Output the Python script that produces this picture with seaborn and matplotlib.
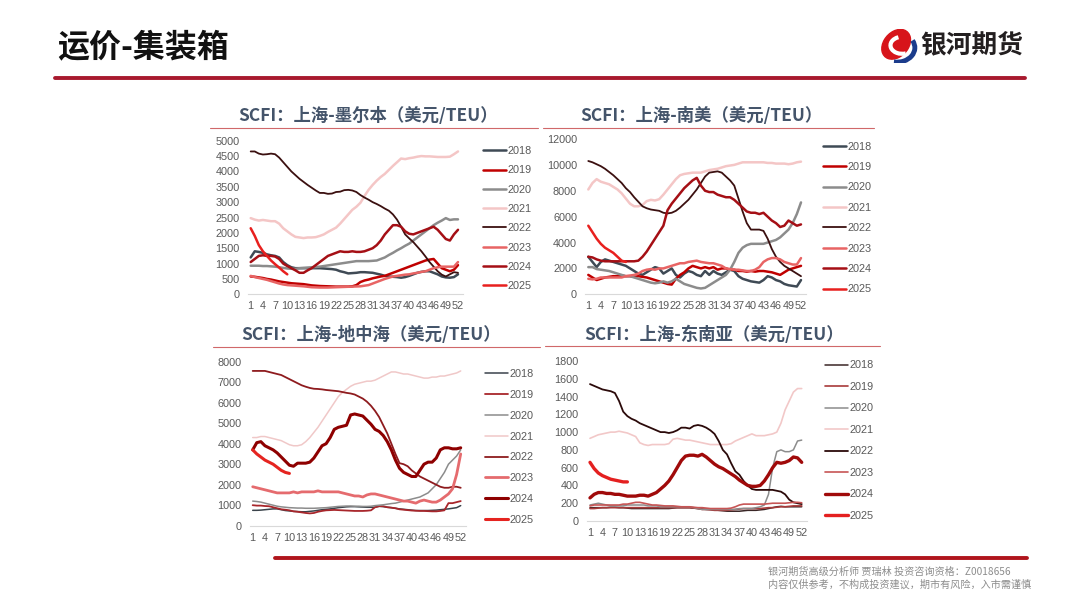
import numpy as np
import matplotlib
matplotlib.use('Agg')
import matplotlib.pyplot as plt
from matplotlib.lines import Line2D
from matplotlib.patches import Ellipse, Arc
import seaborn as sns

sns.set_theme(style='white')
plt.rcParams['font.family'] = ['Noto Sans CJK SC', 'DejaVu Sans']

W, H = 1080, 608
YEARS = ['2018', '2019', '2020', '2021', '2022', '2023', '2024', '2025']
WEEKS = list(range(1, 53))

# SCFI 上海-墨尔本
MEL_2018 = [1200,1400,1380,1350,1300,1270,1250,1200,1050,950, 880,850,850,850,850,850,850,850,840,830,
            820,800,750,720,680,690,700,720,720,710, 700,670,640,600,580,570,560,540,560,600,
            650,700,730,750,750,700,650,580,550,540, 560,650]
MEL_2019 = [580,570,550,530,500,480,450,420,400,380, 360,350,340,330,310,290,280,270,265,260,
            255,250,250,250,250,260,300,400,450,480, 520,550,580,600,650,700,750,800,850,900,
            950,1000,1050,1100,1130,1150,1000,850,800,750, 800,950]
MEL_2020 = [930,930,930,920,920,910,900,880,860,840, 830,830,850,860,870,880,890,900,920,940,
            960,980,1000,1020,1040,1060,1080,1080,1080,1080, 1090,1100,1150,1200,1280,1350,1430,1500,1580,1650,
            1750,1850,1950,2050,2150,2250,2330,2400,2480,2420, 2440,2440]
MEL_2021 = [2480,2430,2400,2420,2400,2380,2380,2300,2150,2050, 1950,1870,1850,1830,1850,1850,1860,1900,1950,2030,
            2100,2170,2300,2450,2600,2750,2850,2980,3200,3400, 3560,3700,3820,3920,4050,4180,4300,4420,4400,4430,
            4450,4480,4500,4490,4490,4480,4470,4470,4470,4480, 4560,4650]
MEL_2022 = [4650,4650,4580,4550,4560,4580,4560,4450,4300,4150, 4000,3880,3760,3660,3560,3470,3380,3300,3300,3270,
            3280,3330,3340,3390,3400,3380,3330,3230,3150,3080, 3000,2940,2870,2790,2720,2600,2430,2200,1950,1820,
            1700,1550,1400,1230,1050,900,750,640,580,650, 720,700]
MEL_2023 = [600,560,530,500,470,430,390,350,320,300, 290,280,270,260,245,230,225,220,220,220,
            225,230,235,240,245,250,255,260,280,300, 350,400,450,500,540,580,600,620,640,650,
            680,700,730,750,800,850,880,900,900,900, 900,1050]
MEL_2024 = [1050,1150,1250,1270,1250,1250,1230,1150,1000,920, 850,780,700,700,780,850,950,1050,1150,1250,
            1300,1350,1400,1380,1380,1400,1380,1380,1400,1450, 1500,1600,1750,1950,2100,2250,2250,2200,2050,1970,
            1950,2000,2050,2100,2150,2200,2100,1950,1800,1750, 1950,2100]
MEL_2025 = [2150,1900,1600,1400,1250,1100,980,870,750,650]

# SCFI 上海-南美
SAM_2018 = [2900,2500,2100,2500,2700,2600,2500,2400,2300,2200, 2000,1800,1600,1500,1700,1900,2100,2000,1600,1800,
            2000,1500,1300,1600,1800,1700,1500,1400,1800,1500, 1800,1600,1500,1700,1900,1800,1400,1200,1100,1000,
            950,900,1100,1400,1300,1100,1000,800,700,650, 600,1100]
SAM_2019 = [1500,1300,1100,1200,1300,1350,1400,1400,1450,1400, 1400,1350,1400,1350,1300,1200,1100,1000,900,800,
            750,1200,1500,1700,2000,2200,2100,2000,2100,2000, 2100,1900,2000,2000,1900,1900,1800,1800,1750,1800,
            1750,1800,1800,1750,1700,1600,1500,1700,1900,2000, 2100,2200]
SAM_2020 = [2100,2100,1950,1900,1850,1800,1700,1600,1500,1400, 1400,1300,1200,1100,1000,900,850,900,1000,900,
            1000,1200,1000,800,700,600,500,450,500,700, 900,1100,1300,1500,1900,2500,3200,3600,3800,3900,
            3900,3900,3900,4000,4100,4200,4400,4700,5000,5500, 6200,7100]
SAM_2021 = [8100,8600,8900,8700,8600,8500,8300,8100,7800,7400, 7000,6800,6800,6900,7200,7300,7250,7350,7700,8100,
            8500,8900,9200,9300,9350,9400,9400,9400,9500,9600, 9650,9700,9800,9900,9950,10000,10100,10200,10200,10200,
            10200,10200,10200,10150,10150,10100,10100,10100,10050,10100, 10200,10250]
SAM_2022 = [10300,10200,10050,9900,9700,9450,9200,8900,8600,8200, 7900,7500,7150,6800,6650,6550,6500,6450,6300,6250,
            6300,6450,6700,7000,7300,7700,8100,8600,9100,9400, 9450,9500,9400,9100,8800,8400,7400,6400,5500,5000,
            5000,5000,4900,4300,3500,2900,2500,2200,2000,1800, 1600,1400]
SAM_2023 = [1200,1150,1200,1300,1300,1300,1300,1300,1300,1400, 1450,1500,1600,1800,1900,1950,1900,2000,2000,2100,
            2200,2300,2400,2400,2500,2550,2600,2500,2450,2400, 2400,2300,2200,2000,1950,1900,1900,1850,1800,1800,
            1900,2100,2500,2700,2800,2800,2700,2500,2400,2300, 2300,2800]
SAM_2024 = [2900,2850,2700,2600,2550,2550,2550,2550,2550,2550, 2550,2550,2600,2900,3300,3800,4300,4800,5300,6500,
            7000,7400,7800,8200,8500,8800,9000,8400,8000,7900, 7900,7700,7600,7500,7500,7300,7000,6700,6400,6300,
            6300,6200,6300,6000,5700,5500,5200,5300,5700,5500, 5300,5400]
SAM_2025 = [5300,4800,4300,3900,3600,3400,3200,2900,2600,2500]

# SCFI 上海-地中海
MED_2018 = [750,750,760,780,800,820,820,780,740,720, 700,690,680,680,700,720,750,780,800,820,
            850,880,900,920,930,930,920,910,900,900, 900,950,930,900,880,850,820,800,780,760,
            740,740,740,740,750,760,780,800,820,850, 880,980]
MED_2019 = [1000,980,980,960,950,900,850,800,780,750, 700,680,650,620,600,620,680,720,750,760,
            770,760,750,740,730,720,720,720,730,750, 900,950,950,900,880,850,800,780,760,740,
            730,720,720,710,700,700,720,750,1100,1100, 1150,1200]
MED_2020 = [1200,1180,1150,1100,1050,1000,950,920,900,880, 870,860,860,850,850,850,860,870,880,900,
            920,940,950,960,960,950,950,940,940,950, 980,1000,1020,1050,1080,1100,1150,1200,1250,1300,
            1350,1400,1500,1600,1800,2000,2300,2600,3000,3200, 3400,3700]
MED_2021 = [4300,4300,4350,4350,4300,4250,4200,4150,4050,3950, 3900,3900,3950,4100,4300,4550,4800,5100,5400,5700,
            6000,6300,6500,6650,6800,6900,6950,7000,7050,7050, 7100,7200,7300,7400,7500,7500,7450,7400,7400,7350,
            7300,7250,7200,7200,7250,7250,7300,7300,7350,7400, 7450,7550]
MED_2022 = [7550,7550,7550,7550,7500,7450,7400,7350,7250,7150, 7050,6950,6850,6780,6720,6680,6670,6650,6620,6600,
            6580,6560,6520,6480,6450,6400,6300,6200,6050,5850, 5600,5300,4900,4500,4000,3500,3050,3000,2900,2700,
            2550,2400,2300,2200,2100,2000,1900,1850,1850,1900, 1900,1850]
MED_2023 = [1900,1850,1800,1750,1700,1650,1600,1600,1600,1600, 1650,1600,1650,1650,1650,1650,1700,1650,1650,1650,
            1650,1650,1600,1550,1500,1450,1450,1400,1500,1550, 1550,1500,1450,1400,1350,1300,1250,1200,1200,1150,
            1100,1200,1250,1200,1150,1150,1250,1400,1550,1800, 2500,3500]
MED_2024 = [3700,4050,4100,3900,3800,3700,3550,3350,3150,2950, 2900,3050,3050,3050,3100,3300,3600,3900,4000,4300,
            4700,4800,4850,4900,5400,5450,5400,5350,5150,4950, 4700,4600,4400,4100,3700,3200,2800,2600,2500,2400,
            2400,2700,3000,3100,3100,3300,3700,3800,3800,3750, 3750,3800]
MED_2025 = [3700,3500,3350,3200,3100,3000,2850,2700,2600,2550]

# SCFI 上海-东南亚
SEA_2018 = [150,150,150,150,150,155,155,150,150,145, 140,140,140,140,140,140,140,140,140,140,
            145,150,150,150,150,145,140,135,130,130, 125,120,115,110,110,110,110,115,120,120,
            120,125,130,140,150,160,165,160,160,160, 160,160]
SEA_2019 = [140,140,145,150,150,150,150,150,150,150, 150,150,150,150,150,150,150,150,150,150,
            150,150,150,150,150,145,140,130,130,125, 120,120,120,120,125,130,135,140,140,140,
            140,140,145,150,150,155,160,160,165,170, 170,170]
SEA_2020 = [180,190,200,190,180,170,170,170,170,180, 180,180,180,180,170,170,170,160,160,160,
            160,160,160,160,160,150,140,130,130,130, 130,130,130,130,130,130,140,140,140,140,
            150,160,180,300,600,780,800,780,780,800, 900,910]
SEA_2021 = [930,950,970,980,990,1000,1000,1010,1000,990, 970,950,880,860,850,860,860,860,860,870,
            920,930,920,910,910,900,890,880,870,860, 860,860,860,860,870,900,920,940,960,980,
            960,960,960,970,980,1000,1100,1250,1350,1450, 1490,1490]
SEA_2022 = [1540,1520,1500,1480,1470,1460,1440,1350,1230,1180, 1150,1130,1100,1080,1060,1040,1020,1000,1000,990,
            1000,1020,1050,1050,1040,1070,1080,1070,1050,1020, 980,900,800,750,650,560,520,450,400,360,
            350,350,350,350,350,340,330,300,240,210, 200,190]
SEA_2023 = [170,180,180,180,180,180,180,180,190,190, 200,210,210,200,190,180,180,175,170,170,
            170,165,160,160,160,155,150,150,145,140, 140,140,140,140,145,160,180,190,190,190,
            190,190,190,195,200,200,200,200,205,210, 210,205]
SEA_2024 = [260,300,320,320,310,310,300,300,290,280, 280,280,290,290,280,300,320,360,400,450,
            520,600,680,730,740,740,730,750,720,680, 640,610,590,560,530,500,460,430,400,390,
            390,400,450,520,600,660,650,660,680,720, 710,660]
SEA_2025 = [660,590,540,510,490,470,460,450,440,440]


def px(x, y):
    return x / W, 1 - y / H


def draw_panel(fig, title, series, ymax, ystep, geo, title_xy, rule, leg, colors, widths):
    x1, x52, y0, ytop = geo
    pw = (x52 - x1) / 51
    left = x1 - 0.7 * pw
    right = x52 + 1.2 * pw
    ax = fig.add_axes([left / W, 1 - y0 / H, (right - left) / W, (y0 - ytop) / H])
    ax.set_facecolor('none')
    for yr, vals, c, lw in zip(YEARS, series, colors, widths):
        sns.lineplot(x=WEEKS[:len(vals)], y=vals, ax=ax, color=c, linewidth=lw, label=yr)
    ax.set_xlim(0.3, 53.2)
    ax.set_ylim(0, ymax)
    ax.set_xticks(list(range(1, 53, 3)))
    ax.set_xticklabels([str(w) for w in range(1, 53, 3)])
    ax.set_yticks(np.arange(0, ymax + 1, ystep))
    ax.set_yticklabels([str(int(v)) for v in np.arange(0, ymax + 1, ystep)])
    ax.tick_params(length=0, labelsize=7.8, labelcolor='#595959')
    ax.tick_params(axis='y', pad=6)
    ax.tick_params(axis='x', pad=5)
    for lbl in ax.get_xticklabels() + ax.get_yticklabels():
        lbl.set_family('Liberation Sans')
    for s in ['top', 'right', 'left']:
        ax.spines[s].set_visible(False)
    ax.spines['bottom'].set_color('#D9D9D9')
    ax.spines['bottom'].set_linewidth(0.8)
    ax.set_xlabel('')
    ax.set_ylabel('')

    lx, ly, lsp = leg
    lg = ax.legend(loc='upper left', bbox_to_anchor=px(lx, ly), bbox_transform=fig.transFigure,
                   frameon=False, prop={'family': 'Liberation Sans', 'size': 7.8},
                   handlelength=2.1, handletextpad=0.2, labelspacing=lsp,
                   borderpad=0, borderaxespad=0)
    for t in lg.get_texts():
        t.set_color('#595959')

    tx, ty = title_xy
    fig.text(*px(tx, ty), title, ha='center', va='center', fontsize=12.5,
             fontweight='bold', color='#44546A')
    rx0, rx1, ry = rule
    fig.add_artist(Line2D([rx0 / W, rx1 / W], [1 - ry / H] * 2, color='#D0686A', lw=0.8))
    return ax


fig = plt.figure(figsize=(10.8, 6.08), dpi=100)
fig.patch.set_facecolor('white')

col_a = ['#3F4A55', '#C00000', '#8C8C8C', '#F4C6C6', '#3B1010', '#E86464', '#A50F15', '#E8201E']
col_b = ['#3A434B', '#A8262B', '#8C8C8C', '#F0C8C8', '#8E1B1E', '#E56B6E', '#8E0000', '#E52420']
col_c = ['#3A2626', '#A83A3A', '#8C8C8C', '#F2C8C8', '#2B0A0A', '#C75555', '#A00A0A', '#E42020']
w_a = [1.8, 1.8, 1.8, 1.8, 1.3, 1.8, 1.8, 1.8]
w_b = [1.1, 1.3, 1.1, 1.1, 1.3, 2.0, 2.2, 2.2]
w_c = [1.1, 1.2, 1.1, 1.2, 1.3, 1.2, 2.4, 2.4]

draw_panel(fig, 'SCFI：上海-墨尔本（美元/TEU）',
           [MEL_2018, MEL_2019, MEL_2020, MEL_2021, MEL_2022, MEL_2023, MEL_2024, MEL_2025],
           5000, 500, (250.7, 458, 294.3, 140.7), (368, 115.5), (210, 538, 128), (483, 146, 0.86),
           col_a, w_a)
draw_panel(fig, 'SCFI：上海-南美（美元/TEU）',
           [SAM_2018, SAM_2019, SAM_2020, SAM_2021, SAM_2022, SAM_2023, SAM_2024, SAM_2025],
           12000, 2000, (588.3, 801, 294.3, 139), (701.5, 116), (543, 874, 128), (823, 141.5, 0.96),
           col_a, w_a)
draw_panel(fig, 'SCFI：上海-地中海（美元/TEU）',
           [MED_2018, MED_2019, MED_2020, MED_2021, MED_2022, MED_2023, MED_2024, MED_2025],
           8000, 1000, (252.7, 460.7, 525.7, 361.7), (371.5, 335), (213, 540, 346.5), (485, 369, 1.0),
           col_b, w_b)
draw_panel(fig, 'SCFI：上海-东南亚（美元/TEU）',
           [SEA_2018, SEA_2019, SEA_2020, SEA_2021, SEA_2022, SEA_2023, SEA_2024, SEA_2025],
           1800, 200, (590, 801.7, 521, 361), (714, 335), (545, 880, 346), (825, 360.5, 1.06),
           col_c, w_c)

# 页眉
fig.text(*px(57, 48), '运价-集装箱', ha='left', va='center', fontsize=23,
         fontweight='bold', color='#111111')
fig.add_artist(Line2D([55 / W, 1025 / W], [1 - 78 / H] * 2, color='#A8192E', lw=2.8))
fig.text(*px(920, 45), '银河期货', ha='left', va='center', fontsize=18.5,
         fontweight='bold', color='#231F20')

logo = fig.add_axes([876 / W, 1 - 63 / H, 42 / W, 34 / H])
logo.set_xlim(0, 1)
logo.set_ylim(0, 1)
logo.axis('off')
logo.add_patch(Ellipse((0.48, 0.55), 0.62, 0.92, angle=-25, color='#D7141A'))
logo.add_patch(Arc((0.62, 0.52), 0.55, 0.5, theta1=110, theta2=290, color='white', lw=3))
logo.add_patch(Arc((0.5, 0.45), 0.85, 0.85, theta1=-100, theta2=30, color='#1B3C8C', lw=3.5))

# 页脚
fig.add_artist(Line2D([275 / W, 1027 / W], [1 - 558 / H] * 2, color='#B0151C', lw=2.8))
fig.text(*px(768, 572), '银河期货高级分析师 贾瑞林 投资咨询资格：Z0018656', ha='left', va='center',
         fontsize=7.3, color='#8C8C8C')
fig.text(*px(768, 585), '内容仅供参考，不构成投资建议，期市有风险，入市需谨慎', ha='left', va='center',
         fontsize=7.3, color='#8C8C8C')

fig.savefig('out.png', dpi=100, facecolor='white')
